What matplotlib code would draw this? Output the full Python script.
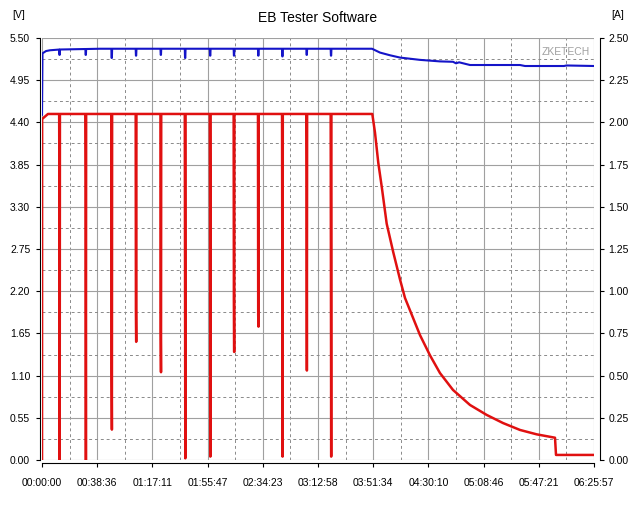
import numpy as np
import matplotlib
matplotlib.use('Agg')
import matplotlib.pyplot as plt
from matplotlib.ticker import FixedLocator

plt.rcParams['font.family'] = ['Liberation Sans', 'DejaVu Sans']

# time axis (seconds), end = 06:25:57
t_end = 23157
tick_labels = ['00:00:00', '00:38:36', '01:17:11', '01:55:47', '02:34:23', '03:12:58',
               '03:51:34', '04:30:10', '05:08:46', '05:47:21', '06:25:57']

# short load interruptions during the plateau
dip_t = [730, 1830, 2920, 3940, 4980, 6000, 7050, 8050, 9070, 10080, 11100, 12120]
dip_amp_mid = [1.56, 1.66, 0.52, 0.90, 0.76, 1.20, 1.50, 0.95, 0.86, 1.20, 1.70, 1.20]
dip_amp_min = [0.00, 0.00, 0.18, 0.70, 0.52, 0.01, 0.02, 0.64, 0.79, 0.02, 0.53, 0.02]
dip_volt_min = [5.28, 5.28, 5.24, 5.27, 5.28, 5.24, 5.27, 5.27, 5.27, 5.26, 5.28, 5.27]

# current: start + plateau + decay
amp_start_t = [0, 5, 250]
amp_start = [0.0, 2.02, 2.05]
amp_plateau = 2.05
amp_tail_t = [13856, 13969, 14108, 14251, 14460, 14737, 15018, 15228, 15857, 16277,
              16696, 17242, 17955, 18655, 19339, 20053, 20753, 21521, 21563, 23157]
amp_tail = [2.05, 1.94, 1.76, 1.62, 1.40, 1.23, 1.07, 0.96, 0.74, 0.62,
            0.515, 0.415, 0.326, 0.267, 0.219, 0.178, 0.152, 0.132, 0.030, 0.030]

# voltage
volt_t = [0, 20, 170, 335, 755, 2433, 13760, 13844, 14179, 14598, 15018, 15857,
          16696, 17242, 17367, 17500, 17955, 20053, 20262, 21900, 22000, 23157]
volt = [4.50, 5.30, 5.33, 5.34, 5.35, 5.36, 5.36, 5.36, 5.31, 5.275, 5.245, 5.215,
        5.195, 5.19, 5.17, 5.183, 5.148, 5.148, 5.135, 5.135, 5.142, 5.135]


def with_dips(t, y, dips):
    t = list(t)
    y = list(y)
    for dt, vals in dips:
        for off, v in zip((-10, 0, 12, 22), vals):
            t.append(dt + off)
            y.append(v)
    order = np.argsort(t, kind='stable')
    return np.array(t)[order], np.array(y)[order]


amp_base_t = amp_start_t + amp_tail_t
amp_base = amp_start + amp_tail
amp_dips = [(d, (amp_plateau, m, lo, amp_plateau)) for d, m, lo in zip(dip_t, dip_amp_mid, dip_amp_min)]
at, ay = with_dips(amp_base_t, amp_base, amp_dips)

volt_dips = [(d, (np.interp(d, volt_t, volt), v, v, np.interp(d, volt_t, volt)))
             for d, v in zip(dip_t, dip_volt_min)]
vt, vy = with_dips(volt_t, volt, volt_dips)

fig = plt.figure(figsize=(6.4, 5.07), dpi=100)
ax = fig.add_axes([42 / 640, 47 / 507, 552 / 640, 422 / 507])
ax2 = ax.twinx()

xt = np.linspace(0, t_end, 11)
ax.set_xlim(0, t_end)
ax.set_ylim(0, 5.5)
ax.set_xticks(xt)
ax.set_xticklabels(tick_labels)
ax.xaxis.set_minor_locator(FixedLocator((xt[:-1] + xt[1:]) / 2))
yt = np.arange(11) * 0.55
ax.set_yticks(yt)
ax.set_yticklabels(['%.2f' % v for v in yt])
ax.yaxis.set_minor_locator(FixedLocator(yt[:-1] + 0.275))

ax2.set_ylim(0, 2.5)
at_ticks = np.arange(11) * 0.25
ax2.set_yticks(at_ticks)
ax2.set_yticklabels(['%.2f' % v for v in at_ticks])

ax.set_axisbelow(True)
ax.grid(which='major', color='#a0a0a0', lw=0.8, ls='-')
ax.grid(which='minor', color='#8a8a8a', lw=0.7, ls=(0, (3, 3)))

ax.plot(vt, vy, color='#1414c8', lw=1.5)
ax2.plot(at, ay, color='#e01010', lw=1.8)

for a in (ax, ax2):
    a.spines['top'].set_visible(False)
ax.spines['right'].set_visible(False)
ax2.spines['left'].set_visible(False)
ax2.spines['bottom'].set_visible(False)
ax.spines['left'].set_position(('outward', 1.5))
ax.spines['bottom'].set_position(('outward', 2.2))
ax2.spines['right'].set_position(('outward', 4.3))
for s in (ax.spines['left'], ax.spines['bottom'], ax2.spines['right']):
    s.set_linewidth(0.8)

ax.tick_params(which='major', direction='out', length=3, width=0.8, labelsize=7.5, pad=4)
ax.tick_params(axis='x', pad=8)
ax.tick_params(which='minor', length=0)
ax2.tick_params(which='major', direction='out', length=3, width=0.8, labelsize=7.5, pad=3)

fig.text(318 / 640, 1 - 18 / 507, 'EB Tester Software', ha='center', va='center', fontsize=10)
fig.text(19 / 640, 1 - 15 / 507, '[V]', ha='center', va='center', fontsize=7.5)
fig.text(618 / 640, 1 - 15 / 507, '[A]', ha='center', va='center', fontsize=7.5)
fig.text(590 / 640, 1 - 52 / 507, 'ZKETECH', ha='right', va='center', fontsize=7.5, color='#a0a0a0')

fig.savefig('out.png', dpi=100, facecolor='white')
